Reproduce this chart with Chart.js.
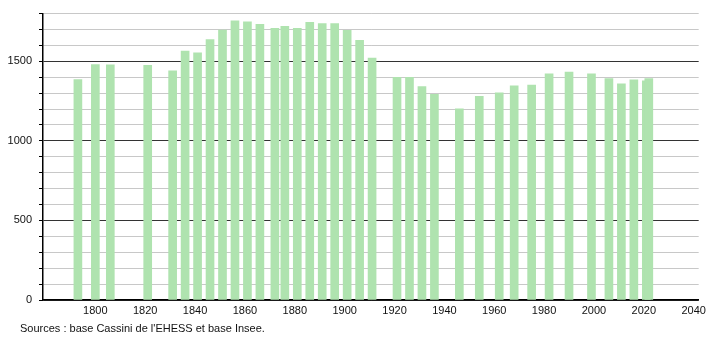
<!DOCTYPE html>
<html>
<head>
<meta charset="utf-8">
<script src="https://cdn.jsdelivr.net/npm/chart.js@4"></script>
<style>
  body { margin: 0; background: #fff; }
  #wrap { position: relative; width: 710px; height: 340px; }
  #note { position: absolute; left: 20px; top: 322px; font: 11px "Liberation Sans", Arial, sans-serif; color: #111; }
</style>
</head>
<body>
<div id="wrap">
  <canvas id="popChart" width="710" height="340"></canvas>
  <div id="note">Sources : base Cassini de l'EHESS et base Insee.</div>
</div>
<script>
// census years and population
const years = [1793, 1800, 1806, 1821, 1831, 1836, 1841, 1846, 1851, 1856, 1861, 1866,
  1872, 1876, 1881, 1886, 1891, 1896, 1901, 1906, 1911, 1921, 1926, 1931, 1936, 1946,
  1954, 1962, 1968, 1975, 1982, 1990, 1999, 2006, 2011, 2016, 2021, 2022];
const population = [1385, 1480, 1478, 1475, 1440, 1564, 1553, 1637, 1697, 1755, 1749, 1732,
  1707, 1720, 1707, 1745, 1738, 1738, 1695, 1632, 1520, 1400, 1400, 1342, 1292, 1202,
  1280, 1302, 1346, 1350, 1421, 1433, 1421, 1391, 1358, 1383, 1378, 1392];
const yLabels = [0, 500, 1000, 1500];
const xLabels = [1800, 1820, 1840, 1860, 1880, 1900, 1920, 1940, 1960, 1980, 2000, 2020, 2040];

document.addEventListener('DOMContentLoaded', () => {
  const font = { family: '"Liberation Sans", Arial, sans-serif', size: 11 };

  new Chart(document.getElementById('popChart'), {
    type: 'bar',
    data: {
      datasets: [{
        data: years.map((y, i) => ({ x: y, y: population[i] })),
        backgroundColor: '#afe3af',
        barThickness: 8,
        borderWidth: 0
      }]
    },
    options: {
      responsive: false,
      animation: false,
      layout: { padding: { top: 10, right: 10, bottom: 20, left: 0 } },
      plugins: { legend: { display: false }, tooltip: { enabled: false } },
      scales: {
        x: {
          type: 'linear',
          offset: false,
          min: 1779,
          max: 2042,
          afterFit: s => { s.height = 20; },
          border: { color: '#000', width: 1.5 },
          grid: { display: false, drawTicks: false, offset: false },
          ticks: {
            stepSize: 20,
            includeBounds: false,
            autoSkip: false,
            padding: 4,
            color: '#111',
            font,
            maxRotation: 0,
            callback: v => xLabels.includes(v) ? String(v) : ''
          }
        },
        y: {
          min: 0,
          max: 1800,
          afterFit: s => { s.width = 43; },
          border: { color: '#000', width: 1.5 },
          grid: {
            color: c => (c.tick && c.tick.value % 500 === 0) ? '#333' : '#c8c8c8',
            tickColor: '#000',
            tickLength: 4
          },
          ticks: {
            stepSize: 100,
            maxTicksLimit: 30,
            autoSkip: false,
            padding: 7,
            color: '#111',
            font,
            callback: v => yLabels.includes(v) ? String(v) : ''
          }
        }
      }
    }
  });
});
</script>
</body>
</html>
